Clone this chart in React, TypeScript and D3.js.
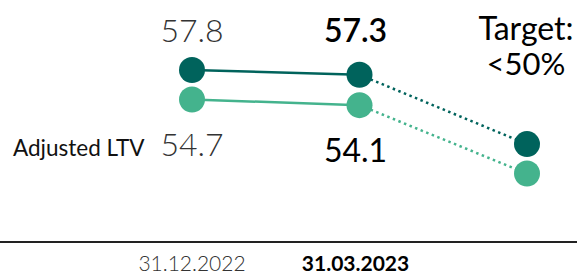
import React, { useEffect, useRef } from 'react'
import * as d3 from 'd3'

const categories = ['31.12.2022', '31.03.2023', 'Target']
const ltvValues = [57.8, 57.3, 50.0]
const adjustedValues = [54.7, 54.1, 46.9]
const topLabels = ['57.8', '57.3']
const bottomLabels = ['54.7', '54.1']
const targetLines = ['Target:', '<50%']

const DARK = '#00635c'
const LIGHT = '#44b38d'
const FONT = 'Lato, "Open Sans", sans-serif'

export default function App() {
  const svgRef = useRef<SVGSVGElement>(null)

  useEffect(() => {
    if (!svgRef.current) return
    const svg = d3.select(svgRef.current)
    svg.selectAll('*').remove()

    const width = 577

    const x = d3.scalePoint<string>().domain(categories).range([192, 527])
    const y = d3.scaleLinear().domain([45, 60]).range([191.6, 49.1])

    // baseline axis
    svg.append('line')
      .attr('x1', 0).attr('x2', width)
      .attr('y1', 242).attr('y2', 242)
      .attr('stroke', '#222')
      .attr('stroke-width', 2)

    const series = [
      { values: ltvValues, color: DARK },
      { values: adjustedValues, color: LIGHT },
    ]

    series.forEach((s) => {
      const pts = s.values.map((v, i) => [x(categories[i]) as number, y(v)] as [number, number])
      svg.append('path')
        .attr('d', d3.line()(pts.slice(0, 2)))
        .attr('stroke', s.color)
        .attr('stroke-width', 2.5)
        .attr('fill', 'none')
      svg.append('path')
        .attr('d', d3.line()(pts.slice(1, 3)))
        .attr('stroke', s.color)
        .attr('stroke-width', 2.5)
        .attr('stroke-dasharray', '2.5 3.5')
        .attr('fill', 'none')
      svg.selectAll(null)
        .data(pts)
        .join('circle')
        .attr('cx', (d) => d[0])
        .attr('cy', (d) => d[1])
        .attr('r', 13)
        .attr('fill', s.color)
    })

    const txt = (t: string, cx: number, cy: number, size: number, weight: number, fill: string, anchor = 'middle') =>
      svg.append('text')
        .attr('x', cx).attr('y', cy)
        .attr('text-anchor', anchor)
        .style('font-family', FONT)
        .style('font-size', `${size}px`)
        .style('font-weight', weight)
        .style('fill', fill)
        .text(t)

    const x0 = x(categories[0]) as number
    const x1 = (x(categories[1]) as number) - 4
    const x2 = x(categories[2]) as number

    txt(topLabels[0], x0, 42, 32, 300, '#333')
    txt(topLabels[1], x1, 42, 32, 600, '#000')
    txt(bottomLabels[0], x0, 156, 32, 300, '#333')
    txt(bottomLabels[1], x1, 162, 32, 400, '#000')
    txt(targetLines[0], x2 - 1, 40, 32, 400, '#000')
    txt(targetLines[1], x2 - 1, 75, 31, 400, '#000')
    txt('Adjusted LTV', 13, 156, 22.5, 400, '#111', 'start')

    txt(categories[0], x0, 271, 21, 300, '#333')
    txt(categories[1], x1, 271, 21, 700, '#000')
  }, [])

  return (
    <div style={{ position: 'absolute', left: 0, top: 0 }}>
      <svg ref={svgRef} width={577} height={274} style={{ display: 'block' }} />
    </div>
  )
}
